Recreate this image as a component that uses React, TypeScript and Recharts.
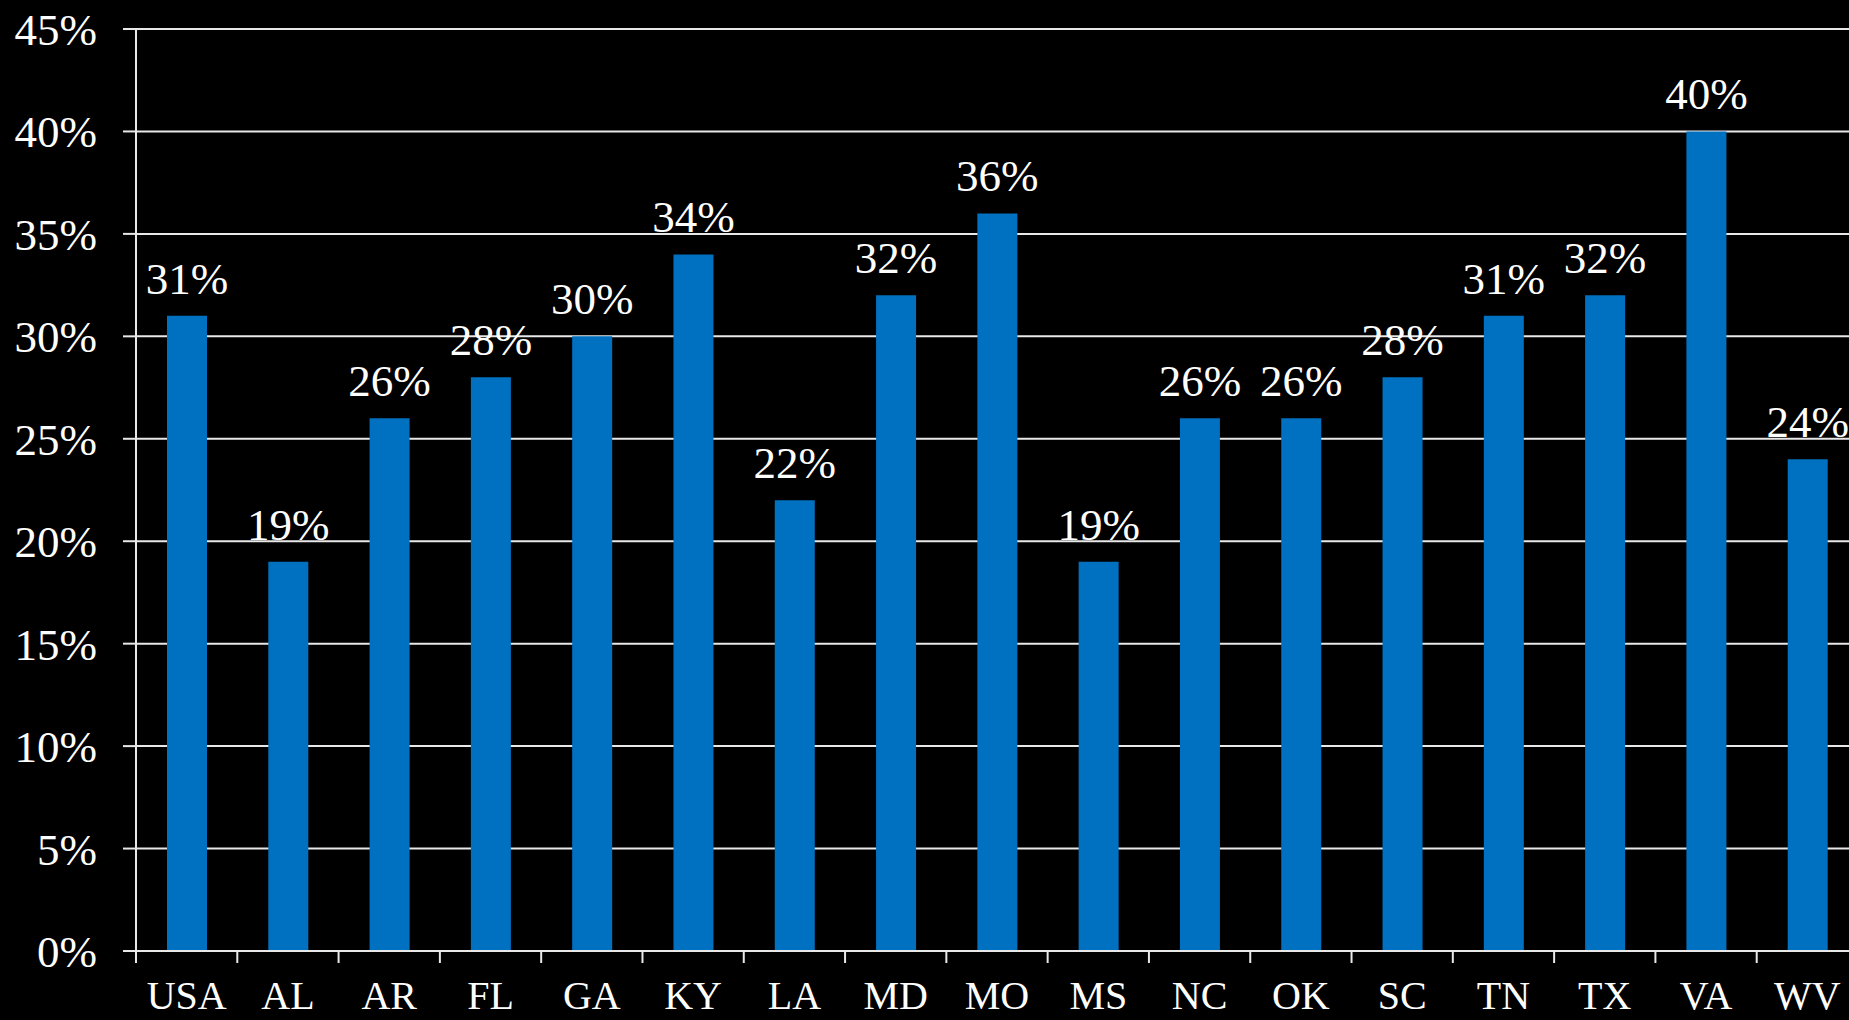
import { BarChart, Bar, XAxis, YAxis, CartesianGrid, LabelList } from "recharts";

const states = ["USA", "AL", "AR", "FL", "GA", "KY", "LA", "MD", "MO", "MS", "NC", "OK", "SC", "TN", "TX", "VA", "WV"];
const shares = [31, 19, 26, 28, 30, 34, 22, 32, 36, 19, 26, 26, 28, 31, 32, 40, 24];
const yTicks = [0, 5, 10, 15, 20, 25, 30, 35, 40, 45];

const data = states.map((state, i) => ({ state, share: shares[i] }));

const CHART_W = 1870;
const CHART_H = 1020;
const Y_AXIS_W = 136;
const MARGIN_RIGHT = 12;
const BAND = (CHART_W - Y_AXIS_W - MARGIN_RIGHT) / states.length;
const LINE = "#e8e8e8";
const FONT = "Liberation Serif, serif";

function StateTick(props: any) {
  const { x, y, payload } = props;
  const left = x - BAND / 2;
  return (
    <g>
      <line x1={left} y1={y} x2={left} y2={y + 12} stroke={LINE} strokeWidth={2} />
      <text x={x} y={y + 58} textAnchor="middle" fill="#fff" style={{ fontSize: 40, fontFamily: FONT }}>
        {payload.value}
      </text>
    </g>
  );
}

export default function App() {
  return (
    <div
      style={{
        position: "fixed",
        top: 0,
        left: 0,
        width: 1849,
        height: 1020,
        overflow: "hidden",
        background: "#000",
        fontFamily: FONT,
      }}
    >
      <BarChart
        width={CHART_W}
        height={CHART_H}
        data={data}
        margin={{ top: 29, right: MARGIN_RIGHT, left: 0, bottom: 0 }}
        barCategoryGap={0}
        style={{ fontFamily: FONT }}
      >
        <CartesianGrid vertical={false} stroke={LINE} strokeWidth={2} />
        <XAxis
          dataKey="state"
          height={69}
          axisLine={{ stroke: LINE, strokeWidth: 2 }}
          tickLine={false}
          tickSize={0}
          tickMargin={0}
          interval={0}
          tick={<StateTick />}
        />
        <YAxis
          width={Y_AXIS_W}
          domain={[0, 45]}
          ticks={yTicks}
          interval={0}
          tickFormatter={(v) => `${v}%`}
          axisLine={{ stroke: LINE, strokeWidth: 2 }}
          tickLine={{ stroke: LINE, strokeWidth: 2 }}
          tickSize={13}
          tickMargin={26}
          tick={{ fill: "#fff", fontSize: 45, style: { fontFamily: FONT } }}
        />
        <Bar dataKey="share" fill="#0070C0" barSize={40} isAnimationActive={false}>
          <LabelList
            dataKey="share"
            position="top"
            offset={22}
            formatter={(v: any) => `${v}%`}
            fill="#fff"
            fontSize={45}
            style={{ fontFamily: FONT }}
          />
        </Bar>
      </BarChart>
    </div>
  );
}
